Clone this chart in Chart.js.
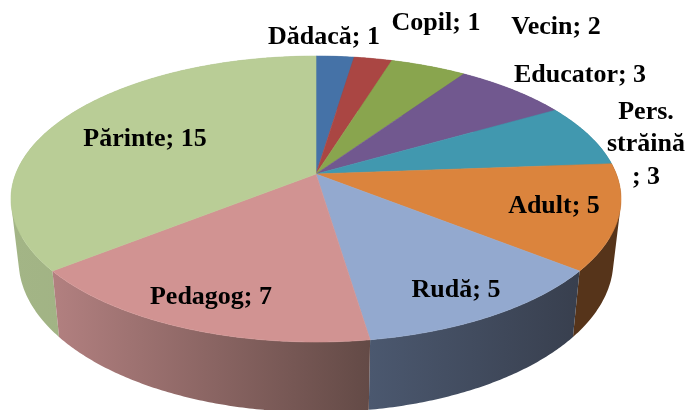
<!DOCTYPE html>
<html><head><meta charset="utf-8">
<style>html,body{margin:0;padding:0;background:#fff}canvas{display:block}</style>
<script src="https://cdn.jsdelivr.net/npm/chart.js@4"></script>
</head><body><canvas id="c" width="690" height="410"></canvas>
<script>
const categories = ["Dădacă","Copil","Vecin","Educator","Pers. străină","Adult","Rudă","Pedagog","Părinte"];
const values = [1,1,2,3,3,5,5,7,15];
const topColors = ["#4572A7","#AA4643","#89A54E","#71588F","#4198AF","#DB843D","#93A9CF","#D19392","#B9CD96"];
const wallLeft = ["#2f4f75","#763130","#5f7336","#4e3d63","#2d6a7a","#56341a","#4B586F","#B28080","#A3B586"];
const wallRight = ["#2f4f75","#763130","#5f7336","#4e3d63","#2d6a7a","#56341a","#383F4E","#634A46","#9AAB7E"];
const labelLines = [["Dădacă; 1"],["Copil; 1"],["Vecin; 2"],["Educator; 3"],["Pers.","străină","; 3"],["Adult; 5"],["Rudă; 5"],["Pedagog; 7"],["Părinte; 15"]];
const labelSpots = [[324,37],[436,23],[556,27],[580,75],[646,112],[554,206],[456,290],[211,297],[145,139]];

const view = {cx:316, cy:174, fx:300.3, fy:138.6, k:0.175, inset:0.975, depthBase:60.2, depthSlope:0.06};
function project(angle){
  const t = angle + Math.PI/2, u = Math.sin(t), v = -Math.cos(t), w = 1 - view.k*v;
  return {x:view.cx + view.fx*u/w, y:view.cy + view.fy*v/w};
}
function below(p){
  return {x:view.cx + view.inset*(p.x-view.cx), y:p.y + view.depthBase + view.depthSlope*(p.y-view.cy)};
}
function rim(a0,a1){
  const n = Math.max(2, Math.ceil((a1-a0)/0.01)), pts=[];
  for(let i=0;i<=n;i++) pts.push(project(a0+(a1-a0)*i/n));
  return pts;
}
function signedArea(q){
  let s=0;
  q.forEach((p,i)=>{const r=q[(i+1)%q.length]; s+=p.x*r.y-r.x*p.y;});
  return s;
}
const perspectivePie = {
  id:'perspectivePie',
  beforeDatasetsDraw(chart){
    const ctx = chart.ctx, arcs = chart.getDatasetMeta(0).data;
    // walls, far slices first
    const order = arcs.map((a,i)=>i).sort((i,j)=>{
      const mid=a=>Math.sin((a.startAngle+a.endAngle)/2);
      return mid(arcs[i])-mid(arcs[j]);
    });
    order.forEach(i=>{
      const a = arcs[i], top = rim(a.startAngle,a.endAngle), bot = top.map(below);
      const xs = top.concat(bot).map(p=>p.x), x0=Math.min(...xs), x1=Math.max(...xs);
      const g = ctx.createLinearGradient(x0,0,x1,0);
      g.addColorStop(0,wallLeft[i]); g.addColorStop(1,wallRight[i]);
      ctx.beginPath();
      for(let n=0;n<top.length-1;n++){
        let q=[top[n],top[n+1],bot[n+1],bot[n]];
        if(signedArea(q)<0) q=q.reverse();
        q.forEach((p,m)=>m?ctx.lineTo(p.x,p.y):ctx.moveTo(p.x,p.y));
        ctx.closePath();
      }
      ctx.fillStyle=g; ctx.fill('nonzero');
    });
    // top faces
    arcs.forEach((a,i)=>{
      ctx.beginPath(); ctx.moveTo(view.cx,view.cy);
      rim(a.startAngle,a.endAngle).forEach(p=>ctx.lineTo(p.x,p.y));
      ctx.closePath();
      ctx.fillStyle=a.options.backgroundColor; ctx.strokeStyle=a.options.backgroundColor;
      ctx.lineWidth=0.6; ctx.fill(); ctx.stroke();
    });
    return false;
  },
  afterDraw(chart){
    const ctx = chart.ctx;
    ctx.save();
    ctx.font='bold 26px "Liberation Serif"'; ctx.fillStyle='#000';
    ctx.textAlign='center'; ctx.textBaseline='middle';
    labelLines.forEach((lines,i)=>{
      lines.forEach((t,n)=>ctx.fillText(t,labelSpots[i][0],labelSpots[i][1]+n*32.5));
    });
    ctx.restore();
  }
};
new Chart(document.getElementById('c'),{
  type:'pie',
  data:{labels:categories,datasets:[{data:values,backgroundColor:topColors,borderWidth:0}]},
  options:{responsive:false,animation:false,plugins:{legend:{display:false},tooltip:{enabled:false}}},
  plugins:[perspectivePie]
});
</script></body></html>
